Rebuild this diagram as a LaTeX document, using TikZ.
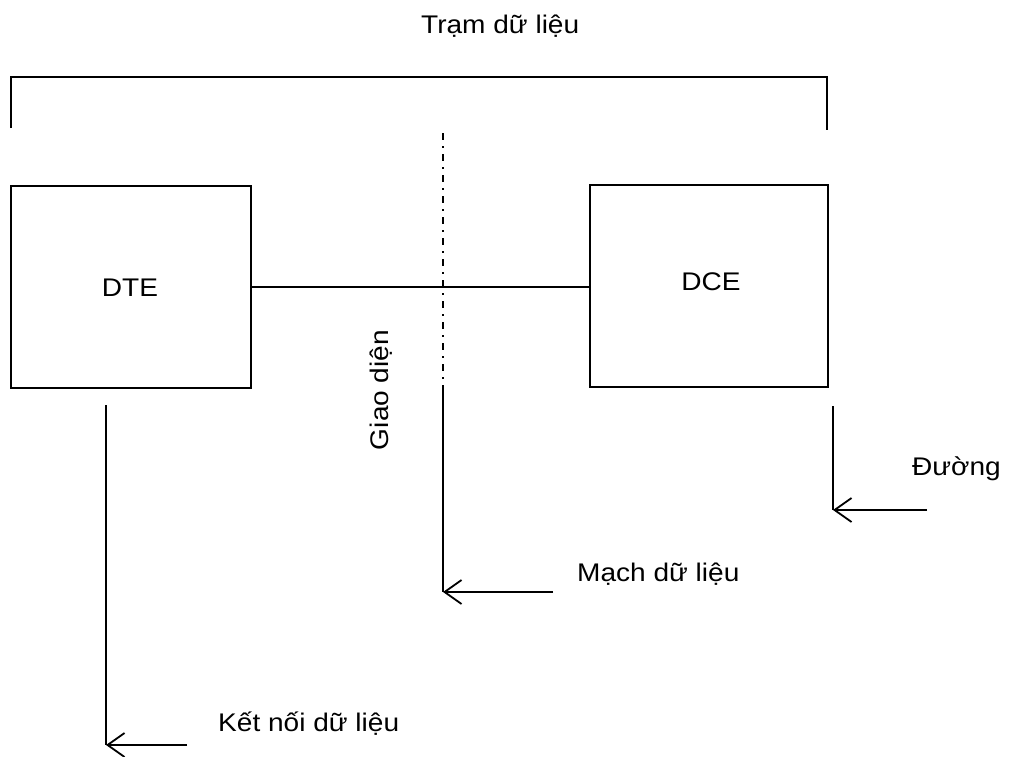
\documentclass[tikz,border=0pt]{standalone}
\usepackage{fontspec}
\setmainfont{Liberation Sans}[FakeStretch=1.1]
\usetikzlibrary{arrows.meta}
\tikzset{
  wire/.style={line width=1.8pt, line cap=rect},
  box/.style={draw, line width=1.8pt, minimum width=#1, minimum height=202pt, inner sep=0pt},
  lbl/.style={font=\fontsize{25.5}{30}\selectfont, inner sep=0pt},
  pointer/.style={wire, line cap=butt, -{Straight Barb[length=17pt,width=24pt,line width=1.8pt]}},
  axis/.style={line width=1.8pt, dash pattern=on 7pt off 6pt on 2pt off 6pt}
}
\begin{document}
\begin{tikzpicture}[x=1pt,y=-1pt]
\useasboundingbox (0,0) rectangle (1010,756);

% station bracket and its heading
\node[lbl, anchor=base west] (title) at (421,33) {Trạm dữ liệu};
\coordinate (brL) at (11,128);
\coordinate (brR) at (827,130);
\draw[wire, line cap=butt] (brL) -- (brL |- 0,77) -- (brR |- 0,77) -- (brR);

% the two equipment blocks
\node[box=240pt] (dte) at (131,287) {};
\node[box=238pt] (dce) at (709,286) {};
\node[lbl] (dtet) at (130,288) {DTE};
\node[lbl] (dcet) at (711,282) {DCE};
\draw[wire] (dte.east) -- (dce.west |- dte.east);

% interface line
\coordinate (ifTop) at (443,133);
\coordinate (ifMid) at (443,387);
\coordinate (ifBot) at (443,592);
\draw[axis] (ifTop) -- (ifMid);
\draw[wire, line cap=butt] (ifMid) -- (ifBot);
\node[lbl, rotate=90] (gd) at (381,390) {Giao diện};

% data circuit
\coordinate (mcEnd) at (553,592);
\draw[pointer] (mcEnd) -- (ifBot);
\node[lbl, anchor=base west] (mc) at (577,581) {Mạch dữ liệu};

% data link
\coordinate (dlTop) at (106,405);
\coordinate (dlBot) at (106,745);
\coordinate (dlEnd) at (187,745);
\draw[wire, line cap=butt] (dlTop) -- (dlBot);
\draw[pointer] (dlEnd) -- (dlBot);
\node[lbl, anchor=base west] (dl) at (218,731) {Kết nối dữ liệu};

% line
\coordinate (lnTop) at (833,406);
\coordinate (lnBot) at (833,510);
\coordinate (lnEnd) at (927,510);
\draw[wire, line cap=butt] (lnTop) -- (lnBot);
\draw[pointer] (lnEnd) -- (lnBot);
\node[lbl, anchor=base west] (ln) at (912,475) {Đường};
\end{tikzpicture}
\end{document}
